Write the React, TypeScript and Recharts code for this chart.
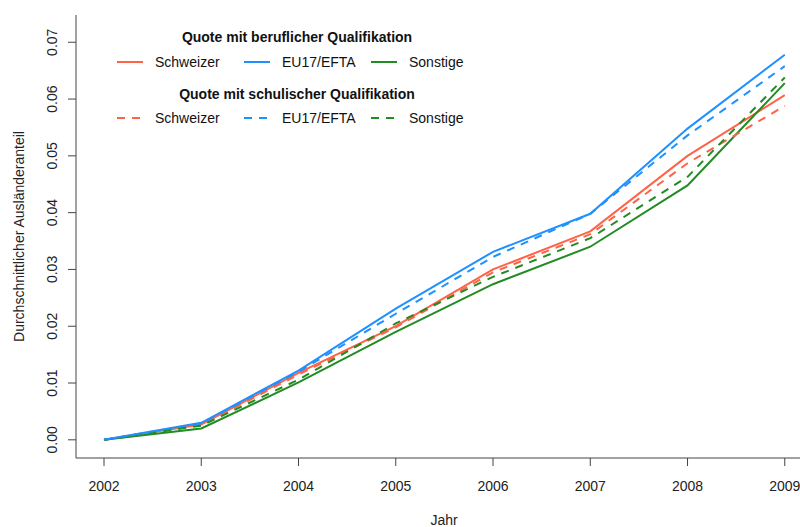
import React from "react";
import { LineChart, Line, XAxis, YAxis, Label } from "recharts";

const years = [2002, 2003, 2004, 2005, 2006, 2007, 2008, 2009];
const schweizerBeruf = [0, 0.0027, 0.0118, 0.02, 0.03, 0.0367, 0.05, 0.0607];
const euBeruf = [0, 0.003, 0.0122, 0.0231, 0.0331, 0.0398, 0.0548, 0.0678];
const sonstigeBeruf = [0, 0.002, 0.0101, 0.019, 0.0274, 0.034, 0.0448, 0.0628];
const schweizerSchul = [0, 0.0026, 0.0115, 0.0198, 0.0295, 0.0362, 0.0487, 0.0588];
const euSchul = [0, 0.0029, 0.012, 0.0222, 0.0322, 0.0398, 0.0536, 0.0658];
const sonstigeSchul = [0, 0.0025, 0.0106, 0.0205, 0.0287, 0.0355, 0.0463, 0.0638];
const yTicks = [0, 0.01, 0.02, 0.03, 0.04, 0.05, 0.06, 0.07];
const groups = ["Schweizer", "EU17/EFTA", "Sonstige"];

const RED = "#FF6347";
const BLUE = "#1E90FF";
const GREEN = "#228B22";
const COLORS = [RED, BLUE, GREEN];
const FONT = "'Liberation Sans', Arial, sans-serif";
const AXIS = "#444";
const DASH = "8 7";

const data = years.map((year, i) => ({
  year,
  swB: schweizerBeruf[i],
  euB: euBeruf[i],
  soB: sonstigeBeruf[i],
  swS: schweizerSchul[i],
  euS: euSchul[i],
  soS: sonstigeSchul[i],
}));

const YTick = ({ x, y, payload }: any) => (
  <text x={x - 9} y={y} transform={`rotate(-90, ${x - 9}, ${y})`} textAnchor="middle" fontSize={14} fontFamily={FONT} fill="#222">
    {payload.value.toFixed(2)}
  </text>
);

const YTitle = ({ viewBox }: any) => {
  const cx = viewBox.x + 18;
  const cy = viewBox.y + viewBox.height / 2;
  return (
    <text x={cx} y={cy} transform={`rotate(-90, ${cx}, ${cy})`} textAnchor="middle" fontSize={14} fontFamily={FONT} fill="#222">
      Durchschnittlicher Ausländeranteil
    </text>
  );
};

function LegendBlock() {
  const itemX = [117, 244, 371];
  const rows = [
    { title: "Quote mit beruflicher Qualifikation", titleY: 37, rowY: 62, dash: undefined },
    { title: "Quote mit schulischer Qualifikation", titleY: 94, rowY: 118, dash: DASH },
  ];
  return (
    <svg width={800} height={140} style={{ position: "absolute", left: 0, top: 0, pointerEvents: "none" }}>
      {rows.map((r) => (
        <g key={r.title} fontFamily={FONT} fontSize={14} fill="#111">
          <text x={297} y={r.titleY} dy="0.35em" textAnchor="middle" fontWeight="bold">{r.title}</text>
          {groups.map((g, i) => (
            <g key={g}>
              <line x1={itemX[i]} x2={itemX[i] + 26} y1={r.rowY} y2={r.rowY} stroke={COLORS[i]} strokeWidth={2} strokeDasharray={r.dash} />
              <text x={itemX[i] + 38} y={r.rowY} dy="0.35em">{g}</text>
            </g>
          ))}
        </g>
      ))}
    </svg>
  );
}

export default function App() {
  return (
    <div style={{ position: "absolute", left: 0, top: 0, width: 800, height: 527, overflow: "hidden", background: "#fff" }}>
      <LineChart width={830} height={527} data={data} margin={{ top: 15, right: 18, bottom: 0, left: 6 }}>
        <XAxis
          dataKey="year"
          type="number"
          domain={[2001.712, 2009.28]}
          ticks={years}
          allowDataOverflow
          height={69}
          tickSize={8}
          tickMargin={15}
          stroke={AXIS}
          tick={{ fontSize: 14, fontFamily: FONT, fill: "#222" }}
        >
          <Label value="Jahr" position="insideBottom" offset={2} style={{ fontSize: 14, fontFamily: FONT, fill: "#222" }} />
        </XAxis>
        <XAxis xAxisId="top" orientation="top" dataKey="year" type="number" domain={[2001.712, 2009.28]} height={0} tick={false} tickLine={false} stroke={AXIS} />
        <YAxis
          type="number"
          domain={[-0.0032, 0.0748]}
          ticks={yTicks}
          allowDataOverflow
          width={70}
          tickSize={8}
          tickMargin={2}
          stroke={AXIS}
          tick={<YTick />}
        >
          <Label content={<YTitle />} />
        </YAxis>
        <Line dataKey="swB" stroke={RED} strokeWidth={2} dot={false} isAnimationActive={false} />
        <Line dataKey="soB" stroke={GREEN} strokeWidth={2} dot={false} isAnimationActive={false} />
        <Line dataKey="swS" stroke={RED} strokeWidth={2} strokeDasharray={DASH} dot={false} isAnimationActive={false} />
        <Line dataKey="euS" stroke={BLUE} strokeWidth={2} strokeDasharray={DASH} dot={false} isAnimationActive={false} />
        <Line dataKey="soS" stroke={GREEN} strokeWidth={2} strokeDasharray={DASH} dot={false} isAnimationActive={false} />
        <Line dataKey="euB" stroke={BLUE} strokeWidth={2} dot={false} isAnimationActive={false} />
      </LineChart>
      <LegendBlock />
    </div>
  );
}
